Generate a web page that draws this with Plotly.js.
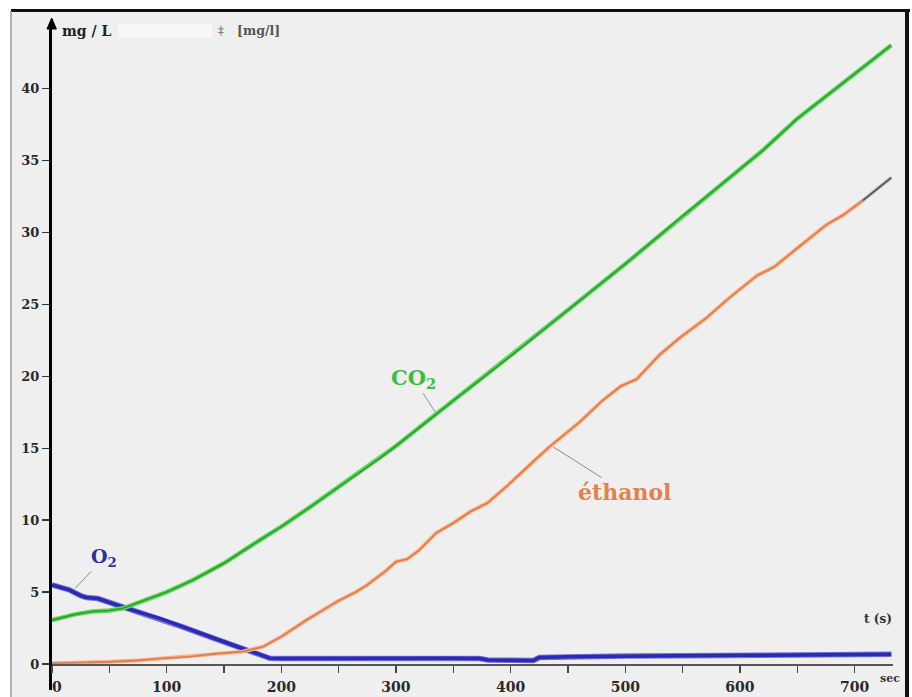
<!DOCTYPE html>
<html><head><meta charset="utf-8">
<script src="https://cdn.plot.ly/plotly-3.0.1.min.js"></script>
<style>html,body{margin:0;padding:0;background:#fff;} #chart{width:912px;height:697px;}</style>
</head><body><div id="chart"></div>
<script>
// ---- data ----
const co2Time  = [0, 20, 35, 50, 62, 79, 100, 123, 150, 181, 200, 225, 250, 286, 300, 334, 350, 400, 428, 450, 500, 548, 600, 620, 650, 700, 732];
const co2Value = [3.05, 3.45, 3.65, 3.72, 3.87, 4.4, 5.0, 5.84, 7.0, 8.6, 9.55, 10.9, 12.3, 14.3, 15.15, 17.3, 18.3, 21.4, 23.2, 24.6, 27.8, 31.0, 34.4, 35.7, 37.9, 41.0, 43.0];

const ethanolTime  = [0, 25, 50, 75, 97, 120, 143, 166, 184, 200, 222, 250, 265, 275, 290, 300, 310, 320, 335, 350, 365, 380, 400, 420, 434, 460, 480, 496, 510, 530, 548, 570, 590, 615, 630, 650, 675, 690, 707, 720, 732];
const ethanolValue = [0.05, 0.08, 0.15, 0.25, 0.4, 0.5, 0.72, 0.86, 1.2, 1.9, 3.06, 4.4, 5.0, 5.5, 6.4, 7.1, 7.3, 7.9, 9.1, 9.8, 10.6, 11.2, 12.6, 14.1, 15.1, 16.8, 18.3, 19.3, 19.8, 21.5, 22.7, 24.0, 25.4, 27.0, 27.6, 28.9, 30.5, 31.2, 32.2, 33.0, 33.8];

const o2Time  = [0, 5, 15, 25, 30, 40, 65, 94, 115, 137, 160, 180, 190, 200, 250, 300, 350, 373, 380, 420, 425, 450, 500, 550, 600, 650, 700, 732];
const o2Value = [5.5, 5.4, 5.15, 4.75, 4.62, 4.55, 3.87, 3.17, 2.55, 1.9, 1.25, 0.7, 0.4, 0.38, 0.4, 0.4, 0.4, 0.38, 0.28, 0.25, 0.45, 0.5, 0.55, 0.58, 0.6, 0.62, 0.65, 0.67];

const xTickValues = [0, 100, 200, 300, 400, 500, 600, 700];
const xTickLabels = ['\u20070', '100', '200', '300', '400', '500', '600', '700'];
const xMinorTickValues = [50, 150, 250, 350, 450, 550, 650];
const yTickValues = [0, 5, 10, 15, 20, 25, 30, 35, 40];
const yTickLabels = ['0', '5', '10', '15', '20', '25', '30', '35', '40'];
const grayTailStart = 707;

// ---- layout helpers (pixel -> paper) ----
const M = {l: 52, r: 19, t: 22, b: 7};
const PW = 912 - M.l - M.r, PH = 697 - M.t - M.b;
const pxX = px => (px - M.l) / PW;
const pxY = py => (697 - M.b - py) / PH;
const PXPU_Y = 14.39, ZERO_PY = 664;
const yTop = (ZERO_PY - M.t) / PXPU_Y, yBot = -(697 - M.b - ZERO_PY) / PXPU_Y;
const xMax = PW / 1.1466;

function glow(x, y, outerColor, outerW, innerColor, innerW) {
  return [
    {x: x, y: y, type: 'scatter', mode: 'lines', line: {color: outerColor, width: outerW}, hoverinfo: 'skip', showlegend: false},
    {x: x, y: y, type: 'scatter', mode: 'lines', line: {color: innerColor, width: innerW}, hoverinfo: 'skip', showlegend: false}
  ];
}
const ethMainT = [], ethMainV = [], ethTailT = [], ethTailV = [];
ethanolTime.forEach((t, i) => {
  if (t <= grayTailStart) { ethMainT.push(t); ethMainV.push(ethanolValue[i]); }
  if (t >= grayTailStart) { ethTailT.push(t); ethTailV.push(ethanolValue[i]); }
});

const traces = [].concat(
  glow(o2Time, o2Value, '#7070d8', 5.5, '#2a2ab4', 3.5),
  glow(ethMainT, ethMainV, '#f6b38c', 4, '#e07a44', 1.6),
  glow(ethTailT, ethTailV, '#b8b8b8', 3.5, '#505050', 1.4),
  glow(co2Time, co2Value, '#5ad85a', 4.5, '#2f9a2f', 1.6)
);

const serifB = (size, color) => ({family: 'DejaVu Serif, Liberation Serif, serif', size: size, color: color, weight: 700});

const layout = {
  width: 912, height: 697,
  margin: M,
  paper_bgcolor: '#ffffff',
  plot_bgcolor: 'rgba(0,0,0,0)',
  showlegend: false,
  xaxis: {
    range: [0, xMax], anchor: 'free', position: pxY(ZERO_PY),
    showgrid: false, zeroline: false,
    showline: true, linecolor: '#555555', linewidth: 1.5,
    tickmode: 'array', tickvals: xTickValues, ticktext: xTickLabels,
    ticks: 'outside', ticklen: 7, tickwidth: 1.2, tickcolor: '#444444',
    minor: {tickmode: 'array', tickvals: xMinorTickValues, ticks: 'outside', ticklen: 7, tickwidth: 1.2, tickcolor: '#444444', showgrid: false},
    ticklabelstandoff: 3,
    tickfont: serifB(14, '#2a2a2a')
  },
  yaxis: {
    range: [yBot, yTop],
    showgrid: false, zeroline: false,
    showline: true, linecolor: '#000000', linewidth: 3,
    tickmode: 'array', tickvals: yTickValues, ticktext: yTickLabels,
    ticks: 'outside', ticklen: 7, tickwidth: 1.2, tickcolor: '#333333',
    tickfont: serifB(13, '#2a2a2a')
  },
  shapes: [
    {type: 'rect', xref: 'paper', yref: 'paper', x0: pxX(11), x1: pxX(907), y0: pxY(697), y1: pxY(11),
     fillcolor: '#efefef', line: {width: 0}, layer: 'below'},
    {type: 'rect', xref: 'paper', yref: 'paper', x0: pxX(118), x1: pxX(212), y0: pxY(38), y1: pxY(24),
     fillcolor: '#f8f8f8', line: {width: 0}, layer: 'below'},
    {type: 'line', xref: 'paper', yref: 'paper', x0: pxX(11), x1: pxX(910), y0: pxY(10.5), y1: pxY(10.5),
     line: {color: '#111111', width: 3}},
    {type: 'line', xref: 'paper', yref: 'paper', x0: pxX(907), x1: pxX(907), y0: pxY(697), y1: pxY(9),
     line: {color: '#111111', width: 4}},
    {type: 'line', xref: 'paper', yref: 'paper', x0: pxX(11), x1: pxX(11), y0: pxY(697), y1: pxY(11),
     line: {color: '#9a9a9a', width: 1.5}},
    {type: 'path', xref: 'paper', yref: 'paper',
     path: 'M ' + pxX(51.7) + ' ' + pxY(18) + ' L ' + pxX(47) + ' ' + pxY(29) + ' L ' + pxX(56.4) + ' ' + pxY(29) + ' Z',
     fillcolor: '#000000', line: {color: '#000000', width: 1}}
  ],
  annotations: [
    {xref: 'paper', yref: 'paper', x: pxX(60), y: pxY(31), xanchor: 'left', yanchor: 'middle',
     text: 'mg / L', showarrow: false, font: serifB(14, '#222222')},
    {xref: 'paper', yref: 'paper', x: pxX(221), y: pxY(31), xanchor: 'center', yanchor: 'middle',
     text: '‡', showarrow: false, font: serifB(11, '#777777')},
    {xref: 'paper', yref: 'paper', x: pxX(235), y: pxY(31), xanchor: 'left', yanchor: 'middle',
     text: '[mg/l]', showarrow: false, font: serifB(12.5, '#555555')},
    {xref: 'paper', yref: 'paper', x: pxX(894), y: pxY(619), xanchor: 'right', yanchor: 'middle',
     text: 't (s)', showarrow: false, font: serifB(12, '#333333')},
    {xref: 'paper', yref: 'paper', x: pxX(878), y: pxY(678), xanchor: 'left', yanchor: 'middle',
     text: 'sec', showarrow: false, font: serifB(11, '#333333')},
    {xref: 'x', yref: 'y', x: 334.3, y: 17.5, ax: -22, ay: -34, axref: 'pixel', ayref: 'pixel',
     text: 'CO<sub>2</sub>', showarrow: true, arrowhead: 0, arrowwidth: 1, arrowcolor: '#8a9a8a',
     font: serifB(21, '#3cbf3c')},
    {xref: 'x', yref: 'y', x: 20.3, y: 5.26, ax: 29, ay: -31, axref: 'pixel', ayref: 'pixel',
     text: 'O<sub>2</sub>', showarrow: true, arrowhead: 0, arrowwidth: 1, arrowcolor: '#8a8aa0',
     font: serifB(19, '#2e2ea6')},
    {xref: 'x', yref: 'y', x: 437.3, y: 15.08, ax: 71, ay: 45, axref: 'pixel', ayref: 'pixel',
     text: 'éthanol', showarrow: true, arrowhead: 0, arrowwidth: 1, arrowcolor: '#a08070',
     font: serifB(22, '#e2814c')}
  ]
};

Plotly.newPlot('chart', traces, layout, {staticPlot: true, displayModeBar: false});
</script>
</body></html>
